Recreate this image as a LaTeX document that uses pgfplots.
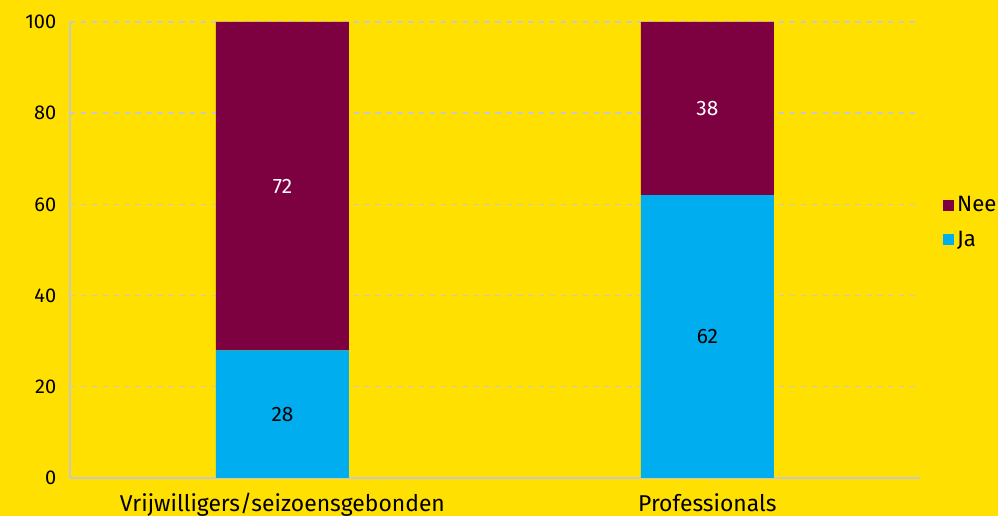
\documentclass[border=0pt]{standalone}
\usepackage{pgfplots}
\pgfplotsset{compat=1.18}
\usepackage{pgfplotstable}
\usepackage{fontspec}
\setmainfont{Fira Sans}
\definecolor{bg}{HTML}{FFE000}
\definecolor{ja}{HTML}{00ADEF}
\definecolor{nee}{HTML}{7D0040}
\definecolor{gridc}{HTML}{C8C8C8}
\pgfplotstableread{
x Ja Nee
0 28 72
1 62 38
}\data
\begin{document}
\begin{tikzpicture}
\useasboundingbox (0,0) rectangle (549pt,283.8pt);
\fill[bg] (0,0) rectangle (549pt,283.8pt);
\begin{axis}[
  at={(38.5pt,20.9pt)}, anchor=south west,
  scale only axis, width=467.5pt, height=250.8pt,
  ybar stacked, bar width=73.15pt,
  xmin=-0.5, xmax=1.5, ymin=0, ymax=100,
  xtick={0,1}, xticklabels={Vrijwilligers/seizoensgebonden,Professionals},
  ytick={0,20,40,60,80,100},
  major tick length=0pt,
  axis x line*=bottom, axis y line*=left,
  axis line style={gridc, line width=1pt, -},
  ymajorgrids, grid style={gridc, dashed, line width=0.8pt},
  /pgf/number format/assume math mode=true,
  tick label style={black},
  yticklabel style={xshift=-4pt, font=\fontsize{11}{13}\selectfont},
  xticklabel style={yshift=-5pt, font=\fontsize{12.6}{14}\selectfont},
  legend style={at={(1.02,0.56)}, anchor=west, draw=none, fill=none,
    font=\fontsize{12.2}{14}\selectfont, row sep=5pt,
    /tikz/every even column/.append style={column sep=1pt}},
  legend cell align=left,
  reverse legend,
  legend image code/.code={\fill[#1] (0pt,-3pt) rectangle (6pt,3pt);},
  nodes near coords, point meta=explicit,
  every node near coord/.append style={font=\fontsize{11.5}{13}\selectfont, anchor=center},
]
\addplot[fill=ja, draw=none, every node near coord/.append style={black}]
  table[x=x, y=Ja, meta=Ja] {\data};
\addplot[fill=nee, draw=none, every node near coord/.append style={white}]
  table[x=x, y=Nee, meta=Nee] {\data};
\legend{Ja,Nee}
\end{axis}
\end{tikzpicture}
\end{document}
